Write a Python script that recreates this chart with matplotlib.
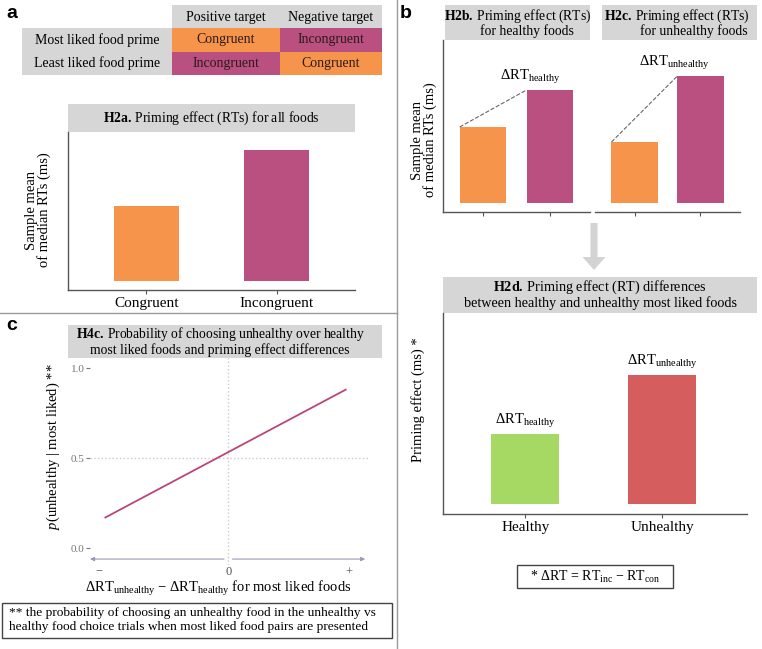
import matplotlib
matplotlib.use("Agg")
import matplotlib.pyplot as plt
from matplotlib.patches import Rectangle, FancyArrow

plt.rcParams["font.family"] = "Liberation Serif"
plt.rcParams["mathtext.fontset"] = "custom"
plt.rcParams["mathtext.rm"] = "Liberation Serif"
plt.rcParams["mathtext.it"] = "Liberation Serif:italic"
plt.rcParams["mathtext.bf"] = "Liberation Serif:bold"

# table of panel a
col_heads = ["Positive target", "Negative target"]
row_heads = ["Most liked food prime", "Least liked food prime"]
cells = [["Congruent", "Incongruent"], ["Incongruent", "Congruent"]]

# bar heights (arbitrary ms units)
h2a_cats = ["Congruent", "Incongruent"]
h2a_rt = [75, 131]
h2b_rt = [76, 113]
h2c_rt = [61, 127]
h2d_cats = ["Healthy", "Unhealthy"]
h2d_effect = [70, 129]

# H4c line
c_x = [-0.88, 0.84]
c_p = [0.17, 0.88]
c_yticks = [0.0, 0.5, 1.0]
c_xticks = [-0.93, 0, 0.86]
c_xticklabels = ["\u2212", "0", "+"]

orange = "#f7944b"
purple = "#b9507f"
green = "#a6d864"
red = "#d65d5d"
grey_box = "#d6d6d6"
spine_c = "#555555"

W, H = 762, 649
fig = plt.figure(figsize=(W / 100, H / 100), dpi=100)

ov = fig.add_axes([0, 0, 1, 1])
ov.set_xlim(0, W)
ov.set_ylim(H, 0)
ov.axis("off")


def box(x0, y0, x1, y1):
    return fig.add_axes([x0 / W, 1 - y1 / H, (x1 - x0) / W, (y1 - y0) / H])


def rect(x0, y0, x1, y1, **kw):
    ov.add_patch(Rectangle((x0, y0), x1 - x0, y1 - y0, **kw))


def bold_head(tag, rest):
    return r"$\mathbf{" + tag + r"}\:$" + rest


def bar_axes(ax, left=True):
    ax.spines["top"].set_visible(False)
    ax.spines["right"].set_visible(False)
    ax.spines["left"].set_visible(left)
    for s in ["left", "bottom"]:
        ax.spines[s].set_color(spine_c)
        ax.spines[s].set_linewidth(1)
    ax.set_yticks([])
    ax.tick_params(axis="x", length=3, color=spine_c, labelsize=11, pad=2)
    ax.patch.set_alpha(0)


# panel labels
for lab, x, y in [("a", 6, 18), ("b", 400, 18), ("c", 6, 330)]:
    ov.text(x, y, lab, family="Liberation Sans", weight="bold", fontsize=14)

# dividers
ov.plot([397, 397], [0, 649], color="#999999", lw=1)
ov.plot([0, 397], [313, 313], color="#999999", lw=1)

# ---- panel a table
rect(172, 5, 382, 28, color=grey_box, lw=0)
rect(22, 28, 172, 75, color=grey_box, lw=0)
col_x = [(172, 280), (280, 382)]
row_y = [(28, 52), (52, 75)]
for j, t in enumerate(col_heads):
    ov.text(sum(col_x[j]) / 2, 17, t, ha="center", va="center", fontsize=10)
for i, t in enumerate(row_heads):
    ov.text(97, sum(row_y[i]) / 2, t, ha="center", va="center", fontsize=10)
    for j in range(2):
        fc = orange if cells[i][j] == "Congruent" else purple
        rect(col_x[j][0], row_y[i][0], col_x[j][1], row_y[i][1], color=fc, lw=0)
        ov.text(sum(col_x[j]) / 2, sum(row_y[i]) / 2, cells[i][j],
                ha="center", va="center", fontsize=10, color="#2a1a1a")

# ---- H2a
rect(68, 104, 355, 132, color=grey_box, lw=0)
ov.text(211, 118, bold_head("H2a.", "Priming effect (RTs) for all foods"),
        ha="center", va="center", fontsize=9.8)
ax = box(68, 132, 355, 290)
ax.bar([1, 2], h2a_rt, width=0.5, color=[orange, purple])
ax.set_xlim(0.4, 2.6)
ax.set_ylim(-9, 149)
ax.set_xticks([1, 2])
ax.set_xticklabels(h2a_cats)
bar_axes(ax)
ov.text(38, 210, "Sample mean\nof median RTs (ms)", rotation=90,
        ha="center", va="center", fontsize=10.5, linespacing=1.0)

# ---- H2b / H2c
rect(445, 5, 590, 40, color=grey_box, lw=0)
ov.text(518, 16, bold_head("H2b.", "Priming effect (RTs)"), ha="center", va="center", fontsize=9.8)
ov.text(527, 31, "for healthy foods", ha="center", va="center", fontsize=9.8)
rect(602, 5, 757, 40, color=grey_box, lw=0)
ov.text(677, 16, bold_head("H2c.", "Priming effect (RTs)"), ha="center", va="center", fontsize=9.8)
ov.text(694, 31, "for unhealthy foods", ha="center", va="center", fontsize=9.8)

for (x0, x1, vals, lab, dx, left) in [(443, 590, h2b_rt, "healthy", -0.3, True),
                                      (595, 740, h2c_rt, "unhealthy", -0.4, False)]:
    ax = box(x0, 40, x1, 212)
    ax.bar([1, 2], vals, width=0.7, color=[orange, purple])
    ax.plot([1 - 0.35, 2 - 0.35], vals, ls="--", color="#666666", lw=0.8)
    ax.text(2 + dx, vals[1] + 4, r"ΔRT$_{\mathrm{" + lab + "}}$",
            ha="center", va="bottom", fontsize=10.5)
    ax.set_xlim(0.4, 2.6)
    ax.set_ylim(-9, 163)
    ax.set_xticks([1, 2])
    ax.set_xticklabels([])
    bar_axes(ax, left)
ov.text(424, 140, "Sample mean\nof median RTs (ms)", rotation=90,
        ha="center", va="center", fontsize=10.5, linespacing=1.0)

# arrow
ov.add_patch(FancyArrow(594, 223, 0, 47, width=7, head_width=23, head_length=13,
                        length_includes_head=True, color="#d3d3d3", lw=0))

# ---- H2d
rect(443, 277, 757, 313, color=grey_box, lw=0)
ov.text(600, 287, bold_head("H2d.", "Priming effect (RT) differences"),
        ha="center", va="center", fontsize=10.2)
ov.text(600, 303, "between healthy and unhealthy most liked foods",
        ha="center", va="center", fontsize=10.2)
ax = box(443, 313, 747, 514)
ax.bar([1, 2], h2d_effect, width=0.5, color=[green, red])
for xi, v, lab in zip([1, 2], h2d_effect, ["healthy", "unhealthy"]):
    ax.text(xi, v + 4, r"ΔRT$_{\mathrm{" + lab + "}}$", ha="center", va="bottom", fontsize=10.5)
ax.set_xlim(0.4, 2.62)
ax.set_ylim(-10, 191)
ax.set_xticks([1, 2])
ax.set_xticklabels(h2d_cats)
bar_axes(ax)
ov.text(418, 400, "Priming effect (ms) *", rotation=90, ha="center", va="center", fontsize=10.5)

rect(517, 565, 673, 588, fill=False, ec="#444444", lw=1)
ov.text(595, 577, r"* ΔRT = RT$_{\mathrm{inc}}$ $-$ RT$_{\mathrm{con}}$",
        ha="center", va="center", fontsize=10)

# ---- H4c
rect(68, 325, 382, 358, color=grey_box, lw=0)
ov.text(221, 334, bold_head("H4c.", "Probability of choosing unhealthy over healthy"),
        ha="center", va="center", fontsize=9.8)
ov.text(220, 350, "most liked foods and priming effect differences",
        ha="center", va="center", fontsize=9.8)
ax = box(90, 358, 368, 565)
ax.set_xlim(-0.99, 1.0)
ax.set_ylim(-0.094, 1.056)
ax.axhline(0.5, color="#cccccc", ls=":", lw=1)
ax.axvline(0, color="#cccccc", ls=":", lw=1)
ax.plot(c_x, c_p, color="#b9467a", lw=1.3)
for xe in [-0.99, 0.98]:
    ax.annotate("", xy=(xe, -0.061), xytext=(0.03 if xe > 0 else -0.03, -0.061),
                arrowprops=dict(arrowstyle="-|>", color="#9a9ab8", lw=0.8,
                                mutation_scale=6, shrinkA=0, shrinkB=0))
for s in ax.spines.values():
    s.set_visible(False)
ax.patch.set_alpha(0)
ax.set_yticks(c_yticks)
ax.set_yticklabels(["%.1f" % v for v in c_yticks])
ax.tick_params(axis="y", length=3, color="#777777", labelcolor="#777777", labelsize=8, pad=1)
ax.set_xticks(c_xticks)
ax.set_xticklabels(c_xticklabels)
ax.tick_params(axis="x", length=0, labelcolor="#555555", labelsize=9, pad=1)
ov.text(53, 447, r"$\it{p}$(unhealthy | most liked) **", rotation=90,
        ha="center", va="center", fontsize=10.5)
ov.text(218, 588, r"ΔRT$_{\mathrm{unhealthy}}$ $-$ ΔRT$_{\mathrm{healthy}}$ for most liked foods",
        ha="center", va="center", fontsize=10.5)

rect(2, 603, 392, 638, fill=False, ec="#444444", lw=1)
ov.text(9, 620, "** the probability of choosing an unhealthy food in the unhealthy vs\n"
        "healthy food choice trials when most liked food pairs are presented",
        ha="left", va="center", fontsize=9.6, linespacing=1.15)

fig.savefig("out.png", dpi=100)
